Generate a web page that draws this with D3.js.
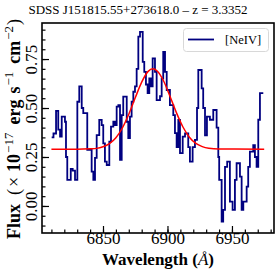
<!DOCTYPE html>
<meta charset="utf-8">
<style>
body { margin: 0; background: #fff; }
svg { display: block; }
text { font-family: "Liberation Serif", "DejaVu Serif", serif; fill: #000; }
</style>
<svg width="277" height="277"></svg>
<script src="https://cdn.jsdelivr.net/npm/d3@7"></script>
<script>

var title = "SDSS J151815.55+273618.0 \u2013 z = 3.3352";
var seriesName = "[NeIV]";

// spectrum, step (left bin edges, Angstrom) and flux
var wave = [6810.2, 6811.6, 6813.6, 6815.3, 6816.7, 6818.0, 6820.5, 6821.3, 6822.3, 6825.0,
            6826.5, 6828.3, 6830.1, 6831.6, 6833.5, 6834.7, 6837.8, 6841.2, 6842.5, 6843.8,
            6845.1, 6847.1, 6849.0, 6850.2, 6851.5, 6852.9, 6854.9, 6856.2, 6858.0, 6859.3,
            6860.6, 6861.9, 6863.2, 6864.5, 6865.7, 6868.4, 6869.6, 6870.9, 6872.2, 6873.5,
            6874.8, 6876.1, 6877.4, 6878.7, 6880.8, 6882.0, 6883.3, 6884.6, 6885.9, 6887.2,
            6888.5, 6890.3, 6891.6, 6894.2, 6895.5, 6896.7, 6898.1, 6899.4, 6901.9, 6904.5,
            6905.8, 6907.1, 6908.4, 6909.7, 6911.8, 6913.6, 6916.1, 6917.4, 6919.5, 6921.3,
            6922.9, 6923.9, 6926.5, 6927.7, 6929.1, 6930.6, 6932.9, 6935.5, 6938.1, 6939.4,
            6940.1, 6942.0, 6943.2, 6944.6, 6946.3, 6948.4, 6950.5, 6952.3, 6953.6, 6956.2,
            6957.5, 6958.8, 6961.4, 6962.6, 6963.9, 6966.5, 6967.8, 6969.1, 6970.4, 6971.7];
var flux = [0.35, 0.37, 0.485, 0.39, 0.354, 0.456, 0.43, 0.25, 0.133, 0.189,
            0.18, 0.133, 0.532, 0.61, 0.50, 0.474, 0.286, 0.175, 0.133, 0.245,
            0.362, 0.439, 0.413, 0.32, 0.226, 0.209, 0.328, 0.405, 0.43, 0.413,
            0.507, 0.515, 0.235, 0.464, 0.558, 0.43, 0.347, 0.456, 0.532, 0.583,
            0.61, 0.70, 0.864, 0.889, 0.736, 0.685, 0.62, 0.576, 0.651, 0.61,
            0.753, 0.685, 0.54, 0.56, 0.65, 0.787, 0.685, 0.592, 0.515, 0.464,
            0.372, 0.30, 0.439, 0.27, 0.354, 0.37, 0.30, 0.226, 0.30, 0.337,
            0.50, 0.694, 0.60, 0.50, 0.36, 0.456, 0.44, 0.49, 0.40, 0.25,
            0.133, -0.08, -0.02, 0.20, 0.226, 0.022, -0.02, 0.133, 0.218, 0.15,
            -0.02, 0.022, 0.099, 0.20, 0.277, 0.311, 0.25, 0.20, 0.44, 0.576];
var waveEnd = 6974.3;

// red fit curve
var fitWave = [6810, 6830, 6840, 6845, 6850, 6855, 6860, 6865, 6870, 6875, 6880, 6885,
               6888.7, 6892, 6897, 6902, 6907, 6912, 6917, 6922, 6927, 6932, 6940, 6975];
var fitFlux = [0.290, 0.290, 0.292, 0.294, 0.302, 0.318, 0.348, 0.398, 0.468, 0.552, 0.632, 0.687,
               0.700, 0.689, 0.638, 0.559, 0.475, 0.403, 0.351, 0.319, 0.303, 0.295, 0.291, 0.290];

var xTicks = [6850, 6900, 6950];
var yTicks = [0.00, 0.25, 0.50, 0.75];

var svg = d3.select("svg"),
    margin = {top: 23, right: 3, bottom: 44, left: 42},
    width = 277 - margin.left - margin.right,
    height = 277 - margin.top - margin.bottom;

svg.append("rect").attr("width", 277).attr("height", 277).attr("fill", "#fff");

var g = svg.append("g").attr("transform", "translate(" + margin.left + "," + margin.top + ")");

var x = d3.scaleLinear().domain([6802.7, 6982.6]).range([0, width]);
var y = d3.scaleLinear().domain([-0.138, 0.934]).range([height, 0]);

// clip to plot area
svg.append("defs").append("clipPath").attr("id", "clip")
  .append("rect").attr("width", width).attr("height", height);

var plot = g.append("g").attr("clip-path", "url(#clip)");

var pts = wave.map(function(w, i) { return [w, flux[i]]; });
pts.push([waveEnd, flux[flux.length - 1]]);

var step = d3.line()
    .x(function(d) { return x(d[0]); })
    .y(function(d) { return y(d[1]); })
    .curve(d3.curveStepAfter);

plot.append("path")
    .attr("d", step(pts))
    .attr("fill", "none")
    .attr("stroke", "#000080")
    .attr("stroke-width", 1.8)
    .attr("stroke-linejoin", "miter");

var fit = d3.line()
    .x(function(d, i) { return x(fitWave[i]); })
    .y(function(d) { return y(d); })
    .curve(d3.curveMonotoneX);

plot.append("path")
    .attr("d", fit(fitFlux))
    .attr("fill", "none")
    .attr("stroke", "red")
    .attr("stroke-width", 1.5);

// axes, ticks pointing in
var xMinor = g.append("g").attr("transform", "translate(0," + height + ")")
    .call(d3.axisBottom(x).tickValues(d3.range(6810, 6981, 10)).tickSize(-3.5).tickFormat(""));
var xMajor = g.append("g").attr("transform", "translate(0," + height + ")")
    .call(d3.axisBottom(x).tickValues(xTicks).tickSize(-7).tickFormat(d3.format("d")));
xMajor.selectAll("text")
    .attr("y", 11).attr("dy", null)
    .style("font-size", "17px");

var yMinor = g.append("g")
    .call(d3.axisLeft(y).tickValues(d3.range(-0.10, 0.93, 0.05)).tickSize(-3.5).tickFormat(""));
var yMajor = g.append("g")
    .call(d3.axisLeft(y).tickValues(yTicks).tickSize(-7).tickFormat(d3.format(".2f")));
yMajor.selectAll("text")
    .attr("x", null).attr("dy", null)
    .attr("text-anchor", "middle")
    .attr("transform", "translate(-5,0) rotate(-90)")
    .style("font-size", "17px");

g.selectAll(".domain").remove();
g.selectAll(".tick line").attr("stroke", "#000").attr("stroke-width", 1.2);
g.selectAll(".tick text").attr("font-family", null);

// frame
g.append("rect")
    .attr("width", width).attr("height", height)
    .attr("fill", "none")
    .attr("stroke", "#000")
    .attr("stroke-width", 1.6);

// legend
var legend = svg.append("g");
legend.append("rect")
    .attr("x", 183.5).attr("y", 28.5).attr("width", 85).attr("height", 23)
    .attr("rx", 3)
    .attr("fill", "#fff").attr("fill-opacity", 0.8)
    .attr("stroke", "#d8d8d8");
legend.append("line")
    .attr("x1", 188).attr("x2", 214).attr("y1", 39.5).attr("y2", 39.5)
    .attr("stroke", "#000080").attr("stroke-width", 1.8);
legend.append("text")
    .attr("x", 225).attr("y", 44)
    .style("font-size", "12.5px")
    .text(seriesName);

// title
svg.append("text")
    .attr("x", 138).attr("y", 14)
    .attr("text-anchor", "middle")
    .style("font-size", "13px")
    .text(title);

// x label
var xl = svg.append("text")
    .attr("x", margin.left + width / 2).attr("y", 264.5)
    .attr("text-anchor", "middle")
    .style("font-size", "17px")
    .style("font-weight", "bold")
    .style("white-space", "pre");
xl.append("tspan").text("Wavelength (");
xl.append("tspan").style("font-style", "italic").style("font-weight", "normal").text("\u00C5");
xl.append("tspan").text(")");

// y label (mathtext in the original, wider gaps between words)
var yl = svg.append("text")
    .attr("transform", "translate(20," + (margin.top + height / 2 + 1) + ") rotate(-90)")
    .attr("text-anchor", "middle")
    .style("font-size", "18px");
yl.append("tspan").style("font-weight", "bold").text("Flux");
yl.append("tspan").attr("dx", 9).text("(");
yl.append("tspan").attr("dx", 2).text("\u00D7");
yl.append("tspan").attr("dx", 5).style("font-weight", "bold").text("10");
yl.append("tspan").attr("dy", -7).attr("dx", 1).style("font-size", "13px").text("\u221217");
yl.append("tspan").attr("dy", 7).attr("dx", 8).style("font-weight", "bold").text("erg");
yl.append("tspan").attr("dx", 6).style("font-weight", "bold").text("s");
yl.append("tspan").attr("dy", -7).attr("dx", 1).style("font-size", "13px").text("\u22121");
yl.append("tspan").attr("dy", 7).attr("dx", 8).style("font-weight", "bold").text("cm");
yl.append("tspan").attr("dy", -7).attr("dx", 1).style("font-size", "13px").text("\u22122");
yl.append("tspan").attr("dy", 7).attr("dx", 1).text(")");

</script>
